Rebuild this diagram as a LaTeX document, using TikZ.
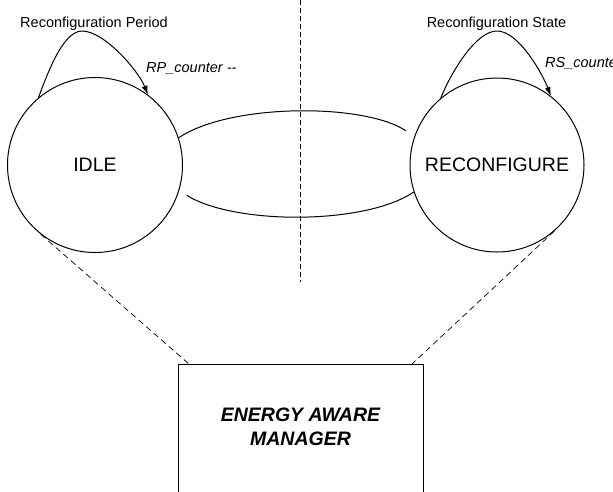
\documentclass[tikz,border=0pt]{standalone}
\usepackage{fontspec}
\setmainfont{Liberation Sans}
\usetikzlibrary{arrows.meta,calc}
\begin{document}
\begin{tikzpicture}[x=1pt,y=-1pt,
  statecircle/.style={draw,circle,line width=1pt,inner sep=0pt,minimum size=175pt,font=\fontsize{19.5}{23}\selectfont},
  trans/.style={line width=1pt},
  looparrow/.style={line width=1pt,-{Latex[length=9pt,width=6pt]}},
  small/.style={font=\fontsize{14.5}{17}\selectfont,inner sep=0pt},
  smallit/.style={font=\fontsize{14.5}{17}\selectfont\itshape,inner sep=0pt},
  guide/.style={line width=0.7pt,dash pattern=on 5pt off 3pt},
  mgrbox/.style={draw,line width=1pt,minimum width=245pt,minimum height=160pt,inner sep=0pt}]
\useasboundingbox (0,0) rectangle (613,491);
% states
\node[statecircle] (idle) at (95,165) {IDLE};
\node[statecircle,minimum size=174pt] (reconf) at (497,165) {RECONFIGURE};
% manager box
\node[mgrbox,anchor=north west] (box) at (178,364) {};
\node[font=\fontsize{19.5}{24}\selectfont\bfseries\itshape,align=center,inner sep=0pt] (mgr) at (300.5,427) {ENERGY AWARE\\MANAGER};
% labels
\node[small,anchor=base] (rplabel) at (94,27) {Reconfiguration Period};
\node[smallit,anchor=base west] (rpcount) at (146,72) {RP\_counter -{}-};
\node[small,anchor=base] (rslabel) at (496.5,27) {Reconfiguration State};
\node[smallit,anchor=base west] (rscount) at (545,67) {RS\_counter -{}-};
% self loops
\draw[looparrow] (idle.130) .. controls (46,78) and (62,31) .. (82,31)
  .. controls (104,31) and (138,70) .. (idle.53);
\draw[looparrow] (reconf.130) .. controls (450,75) and (475,31) .. (497,31)
  .. controls (519,31) and (543,75) .. (reconf.52);
% transitions
\draw[trans,shorten >=10pt] (idle.18) .. controls (230,103) and (365,103) .. (reconf.161);
\draw[trans,shorten <=9pt] (idle.-17) .. controls (235,225) and (365,225) .. (reconf.198);
% vertical divider
\coordinate (divtop) at (300,0);
\coordinate (divbot) at (300,282);
\draw[guide] (divtop) -- (divbot);
% dashed links to manager
\draw[guide,dash pattern=on 6pt off 4pt] (idle.232) -- ($(box.north west)+(11,0)$);
\draw[guide,dash pattern=on 6pt off 4pt] (reconf.311) -- ($(box.north east)+(-12,0)$);
\end{tikzpicture}
\end{document}
